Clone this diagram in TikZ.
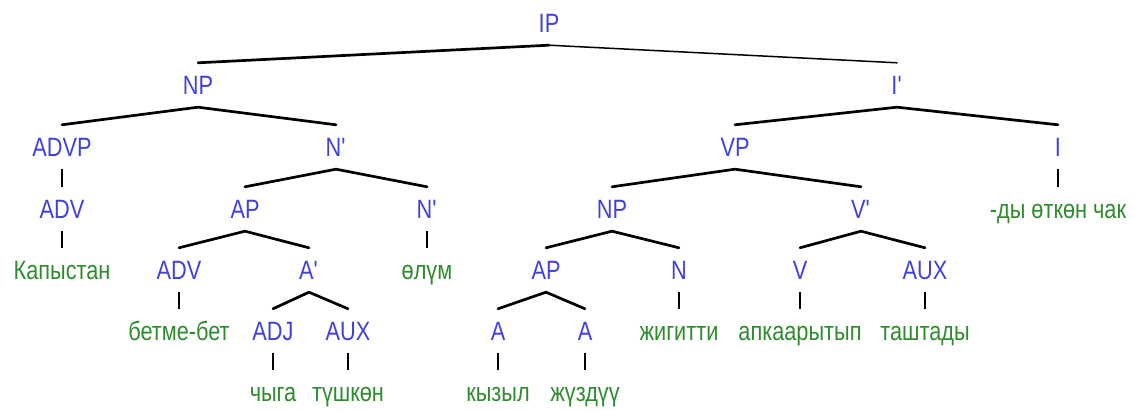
\documentclass[tikz,border=0pt]{standalone}
\usepackage{fontspec}
\setmainfont[FakeStretch=0.82]{Liberation Sans}
\definecolor{catblue}{RGB}{64,64,224}
\definecolor{wordgreen}{RGB}{46,139,46}
\begin{document}
\begin{tikzpicture}[x=1pt,y=-1pt,
  every node/.style={font=\fontsize{26.5}{30}\selectfont, inner xsep=0pt, inner ysep=12.5pt, text height=19pt, text depth=0pt, anchor=center},
  cat/.style={text=catblue},
  word/.style={text=wordgreen},
  branch/.style={line width=2.7pt, line join=round, line cap=round},
  thinbranch/.style={line width=1.5pt, line cap=round},
  unary/.style={line width=1.3pt},
]
\useasboundingbox (0,0) rectangle (1135,411);
% row 0
\node[cat] (IP) at (549,23) {IP};
% row 1
\node[cat] (NPa) at (198,85) {NP};
\node[cat] (Ibar) at (897,85) {I\textquotesingle};
% row 2
\node[cat] (ADVP) at (62,147) {ADVP};
\node[cat] (Nbara) at (336,147) {N\textquotesingle};
\node[cat] (VP) at (735,147) {VP};
\node[cat] (I) at (1058,147) {I};
% row 3
\node[cat] (ADVa) at (62,209) {ADV};
\node[cat] (APa) at (245,209) {AP};
\node[cat] (Nbarb) at (427,209) {N\textquotesingle};
\node[cat] (NPb) at (612,209) {NP};
\node[cat] (Vbar) at (861,209) {V\textquotesingle};
\node[word] (wdy) at (1058,209) {-ды өткөн чак};
% row 4
\node[word] (wkap) at (62,270) {Капыстан};
\node[cat] (ADVb) at (179,270) {ADV};
\node[cat] (Abar) at (309,270) {A\textquotesingle};
\node[word] (wolum) at (427,270) {өлүм};
\node[cat] (APb) at (546,270) {AP};
\node[cat] (N) at (679,270) {N};
\node[cat] (V) at (800,270) {V};
\node[cat] (AUXb) at (925,270) {AUX};
% row 5
\node[word] (wbet) at (179,331) {бетме-бет};
\node[cat] (ADJ) at (273,331) {ADJ};
\node[cat] (AUXa) at (348,331) {AUX};
\node[cat] (Aa) at (498,331) {A};
\node[cat] (Ab) at (585,331) {A};
\node[word] (wjig) at (679,331) {жигитти};
\node[word] (wapk) at (800,331) {апкаарытып};
\node[word] (wtash) at (925,331) {таштады};
% row 6
\node[word] (wchy) at (273,392) {чыга};
\node[word] (wtus) at (348,392) {түшкөн};
\node[word] (wkyz) at (498,392) {кызыл};
\node[word] (wjuz) at (585,392) {жүздүү};
% edges
\draw[branch] (NPa.north) -- (IP.south);
\draw[thinbranch] (IP.south) -- (Ibar.north);
\draw[branch] (ADVP.north) -- (NPa.south) -- (Nbara.north);
\draw[unary] (ADVP.south) -- (ADVa.north);
\draw[unary] (ADVa.south) -- (wkap.north);
\draw[branch] (APa.north) -- (Nbara.south) -- (Nbarb.north);
\draw[branch] (ADVb.north) -- (APa.south) -- (Abar.north);
\draw[unary] (ADVb.south) -- (wbet.north);
\draw[branch] (ADJ.north) -- (Abar.south) -- (AUXa.north);
\draw[unary] (ADJ.south) -- (wchy.north);
\draw[unary] (AUXa.south) -- (wtus.north);
\draw[unary] (Nbarb.south) -- (wolum.north);
\draw[branch] (VP.north) -- (Ibar.south) -- (I.north);
\draw[unary] (I.south) -- (wdy.north);
\draw[branch] (NPb.north) -- (VP.south) -- (Vbar.north);
\draw[branch] (APb.north) -- (NPb.south) -- (N.north);
\draw[branch] (Aa.north) -- (APb.south) -- (Ab.north);
\draw[unary] (Aa.south) -- (wkyz.north);
\draw[unary] (Ab.south) -- (wjuz.north);
\draw[unary] (N.south) -- (wjig.north);
\draw[branch] (V.north) -- (Vbar.south) -- (AUXb.north);
\draw[unary] (V.south) -- (wapk.north);
\draw[unary] (AUXb.south) -- (wtash.north);
\end{tikzpicture}
\end{document}
